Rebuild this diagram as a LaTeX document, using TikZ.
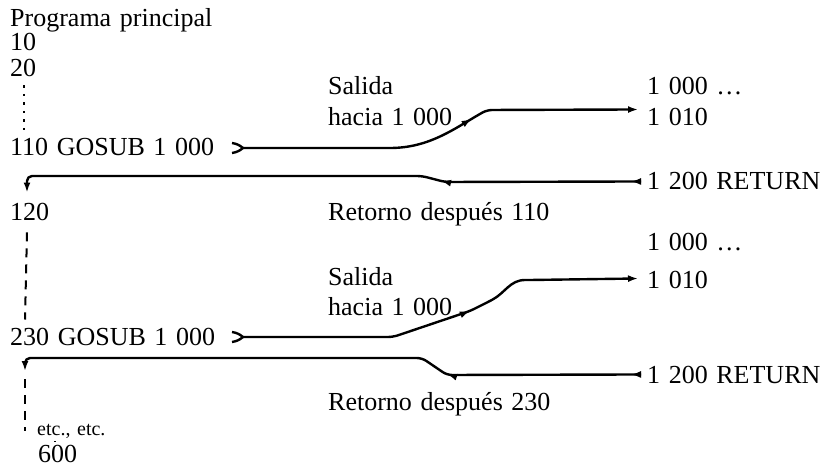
\documentclass[tikz,border=0pt]{standalone}
\usepackage{fontspec}
\setmainfont{Liberation Serif}
\usetikzlibrary{arrows.meta,calc,decorations.markings}

\newcommand\widespace{\spaceskip=0.33em\relax}

\tikzset{
  txt/.style={anchor=base west, inner sep=0pt, font=\fontsize{26}{30}\selectfont,
    execute at begin node=\widespace},
  flow/.style={line width=2.4pt, line join=round, rounded corners=5pt},
  tip/.style={-{Latex[length=10pt,width=7pt]}},
  midtip/.style={postaction={decorate, decoration={markings,
      mark=at position #1 with {\arrow{Latex[length=10pt,width=7pt]}}}}},
  dotline/.style={line width=2.4pt, dash pattern=on 2.5pt off 6pt},
  dashline/.style={line width=2pt, dash pattern=on 9pt off 7pt}
}

\begin{document}
\begin{tikzpicture}[x=1pt, y=-1pt]
  \useasboundingbox (0,0) rectangle (826,470);

  % programa principal
  \node[txt] (prog) at (10,27) {Programa principal};
  \node[txt] (l10) at (10,51) {10};
  \node[txt] (l20) at (10,77) {20};
  \node[txt] (gosubA) at (10,156) {110 GOSUB 1 000};
  \node[txt] (l120) at (10,220) {120};
  \node[txt] (gosubB) at (10,345) {230 GOSUB 1 000};
  \node[txt, font=\fontsize{20}{24}\selectfont] (etc) at (37,435) {etc., etc.};
  \node[txt] (l600) at (38,462) {600};

  % subrutina
  \node[txt] (milA) at (647,95) {1 000 \ldots};
  \node[txt] (diezA) at (647,126) {1 010};
  \node[txt] (returnA) at (647,190) {1 200 RETURN};
  \node[txt] (milB) at (647,250) {1 000 \ldots};
  \node[txt] (diezB) at (647,288) {1 010};
  \node[txt] (returnB) at (647,383) {1 200 RETURN};

  % rotulos
  \node[txt] (salidaA) at (328,95) {Salida};
  \node[txt] (haciaA) at (328,126) {hacia 1 000};
  \node[txt] (retornoA) at (328,220) {Retorno después 110};
  \node[txt] (salidaB) at (328,285) {Salida};
  \node[txt] (haciaB) at (328,315) {hacia 1 000};
  \node[txt] (retornoB) at (328,410) {Retorno después 230};

  % colas de salida
  \coordinate (tailA) at (243,148);
  \coordinate (tailB) at (243,337);
  \coordinate (downB) at (25,371);
  \foreach \t in {tailA,tailB}
    \draw[line width=2.4pt] ($(\t)+(-11,-5)$) to[bend left=15] (\t) to[bend left=15] ($(\t)+(-11,5)$);

  % llamadas
  \draw[flow, tip, midtip=235pt] (tailA) -- (385,148)
    .. controls (430,148) and (455,128) .. (487,110) -- ($(diezA.west)+(-9,-8)$);
  \draw[flow, tip, midtip=231pt] (tailB) -- (393,337) -- (470,311) -- (488,302)
    .. controls (505,293) and (510,280) .. (530,280) -- ($(diezB.west)+(-9,-1)$);

  % retornos
  \draw[flow, tip, midtip=10pt, midtip=200pt] ($(returnA.west)+(-6,0)$) -- (445,182)
    -- (422,176) -- (27,176) -- ($(l120.north west)+(17,-10)$);
  \draw[flow, tip, midtip=10pt, midtip=194pt] ($(returnB.west)+(-6,0)$) -- (447,375)
    -- (422,358) -- (25,358) -- (downB);

  % lineas de continuacion
  \draw[dotline] ($(l20.south west)+(14,8)$) -- ($(gosubA.north west)+(14,-6)$);
  \draw[dashline] ($(l120.south west)+(17,12)$) -- ($(gosubB.north west)+(15,-8)$);
  \draw[dashline] ($(downB)+(0,8)$) -- ($(etc.west)+(-12,0)$);
  \draw[dashline] ($(etc.south west)+(18,3)$) -- ($(l600.north west)+(17,-3)$);
\end{tikzpicture}
\end{document}
